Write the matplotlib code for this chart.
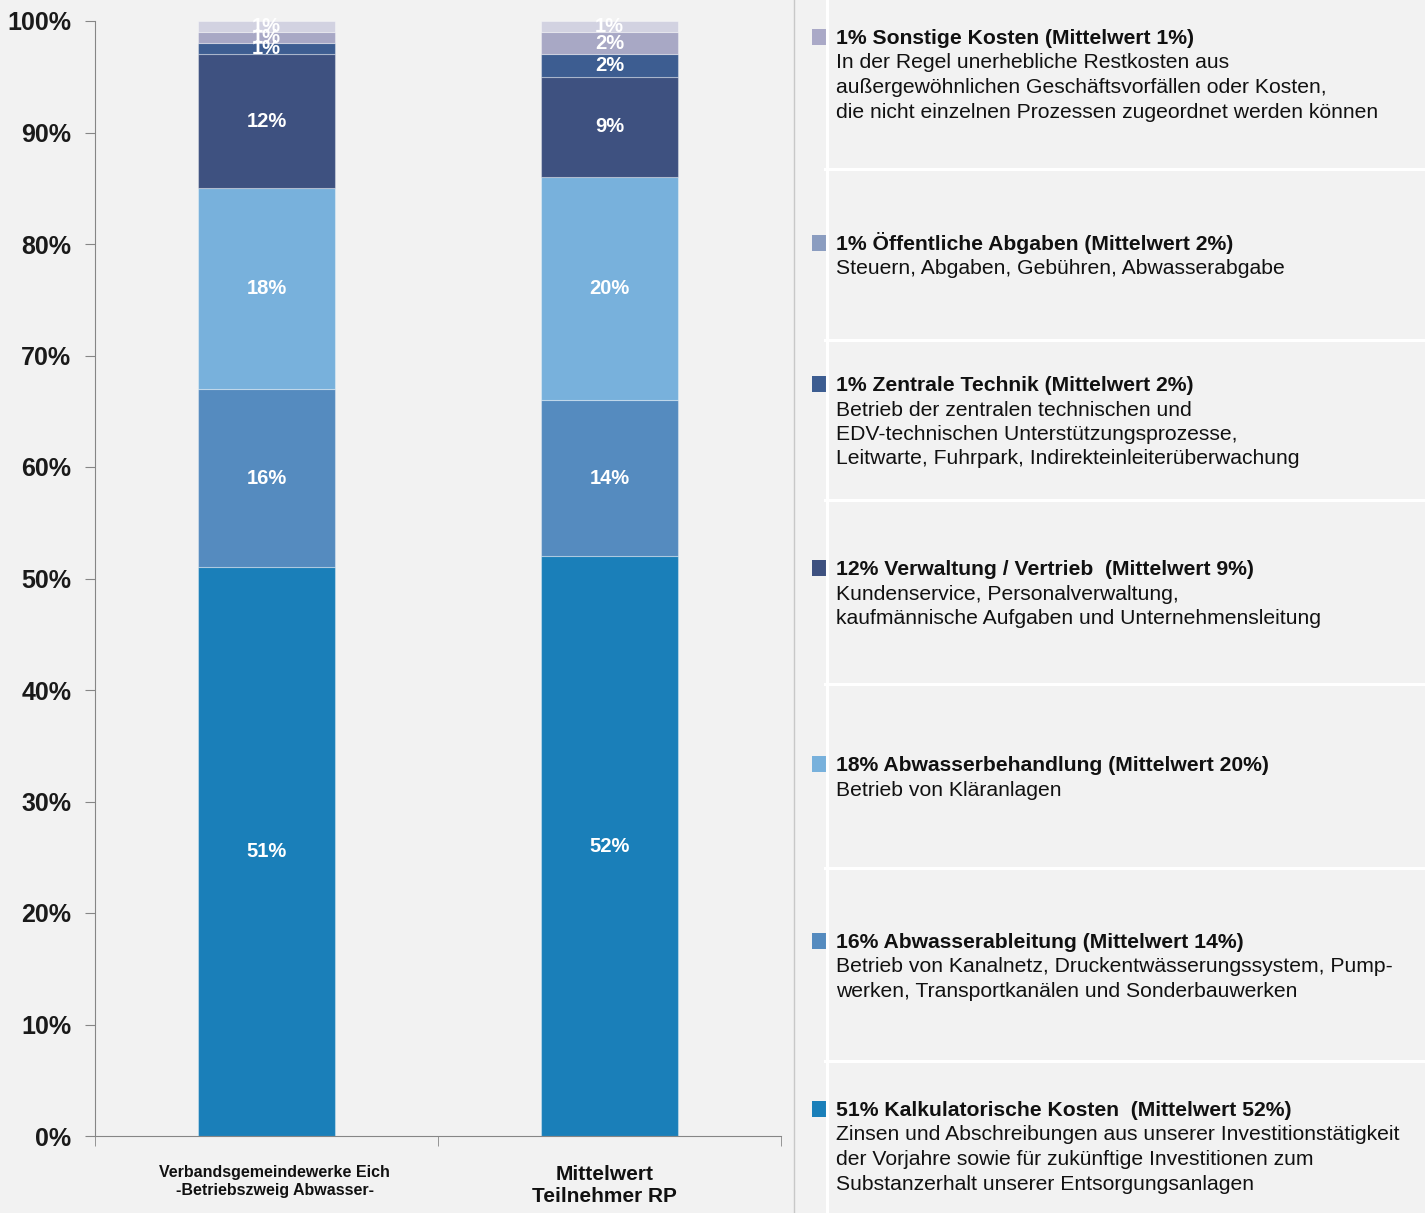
import matplotlib.pyplot as plt
import matplotlib.transforms as mtransforms
from matplotlib.patches import Rectangle
import numpy as np

plt.rcParams['font.family'] = ['Liberation Sans', 'DejaVu Sans']

# Daten (Anteile in %), von unten nach oben gestapelt
categories = ["Verbandsgemeindewerke Eich\n-Betriebszweig Abwasser-", "Mittelwert\nTeilnehmer RP"]
kalkulatorisch = [51, 52]
ableitung = [16, 14]
behandlung = [18, 20]
verwaltung = [12, 9]
zentrale = [1, 2]
oeffentlich = [1, 2]
sonstige = [1, 1]

series = [kalkulatorisch, ableitung, behandlung, verwaltung, zentrale, oeffentlich, sonstige]
bar_colors = ['#1a7fb9', '#558bbf', '#78b1dc', '#3e5180', '#3d5d91', '#a8a8c5', '#d2d2e1']
legend_colors = ['#1a7fb9', '#558bbf', '#78b1dc', '#3e5180', '#3d5d91', '#8b9dc0', '#aaa9c7']

yticks = [0, 10, 20, 30, 40, 50, 60, 70, 80, 90, 100]

# Legende rechts (von oben nach unten)
legend_titles = [
    "1% Sonstige Kosten (Mittelwert 1%)",
    "1% Öffentliche Abgaben (Mittelwert 2%)",
    "1% Zentrale Technik (Mittelwert 2%)",
    "12% Verwaltung / Vertrieb  (Mittelwert 9%)",
    "18% Abwasserbehandlung (Mittelwert 20%)",
    "16% Abwasserableitung (Mittelwert 14%)",
    "51% Kalkulatorische Kosten  (Mittelwert 52%)",
]
legend_texts = [
    ["In der Regel unerhebliche Restkosten aus",
     "außergewöhnlichen Geschäftsvorfällen oder Kosten,",
     "die nicht einzelnen Prozessen zugeordnet werden können"],
    ["Steuern, Abgaben, Gebühren, Abwasserabgabe"],
    ["Betrieb der zentralen technischen und",
     "EDV-technischen Unterstützungsprozesse,",
     "Leitwarte, Fuhrpark, Indirekteinleiterüberwachung"],
    ["Kundenservice, Personalverwaltung,",
     "kaufmännische Aufgaben und Unternehmensleitung"],
    ["Betrieb von Kläranlagen"],
    ["Betrieb von Kanalnetz, Druckentwässerungssystem, Pump-",
     "werken, Transportkanälen und Sonderbauwerken"],
    ["Zinsen und Abschreibungen aus unserer Investitionstätigkeit",
     "der Vorjahre sowie für zukünftige Investitionen zum",
     "Substanzerhalt unserer Entsorgungsanlagen"],
]
legend_marker_colors = legend_colors[::-1]

W, H = 1425, 1213
bg = '#f2f2f2'
fig = plt.figure(figsize=(W / 100, H / 100), dpi=100, facecolor=bg)

# Hintergrund-Panel der Legende (Pixelkoordinaten)
lax = fig.add_axes([0, 0, 1, 1], zorder=0)
lax.set_xlim(0, W)
lax.set_ylim(H, 0)
lax.axis('off')
lax.plot([794, 794], [0, H], color='#c8c8c8', lw=1.0)
lax.plot([827, 827], [0, H], color='white', lw=2.2)
for sy in [169, 340, 500, 684, 868, 1061]:
    lax.plot([825, W], [sy, sy], color='white', lw=2.2)

title_y = [37, 243, 384, 568, 764, 941, 1109]
for ty, title, lines, col in zip(title_y, legend_titles, legend_texts, legend_marker_colors):
    lax.add_patch(Rectangle((812, ty - 8), 16, 16, color=col, lw=0))
    lax.text(836, ty + 7, title, fontsize=15.2, fontweight='bold', color='#111111', va='baseline')
    for k, line in enumerate(lines):
        lax.text(836, ty + 7 + 24.5 * (k + 1), line, fontsize=15.2, color='#111111', va='baseline')

# Diagramm
ax = fig.add_axes([95 / W, 1 - 1136 / H, (781 - 95) / W, (1136 - 21) / H], zorder=1)
ax.set_facecolor('none')
x = np.arange(len(categories))
bottom = np.zeros(len(categories))
for vals, col in zip(series, bar_colors):
    bars = ax.bar(x, vals, 0.4, bottom=bottom, color=col, edgecolor=(1, 1, 1, 0.35), linewidth=0.8)
    ax.bar_label(bars, labels=[f"{v}%" for v in vals], label_type='center',
                 color='white', fontsize=14.5, fontweight='bold')
    bottom += np.array(vals)

ax.set_xlim(-0.5, 1.5)
ax.set_ylim(0, 100)
ax.set_yticks(yticks)
ax.set_yticklabels([f"{t}%" for t in yticks], fontsize=18, fontweight='bold', color='#1a1a1a')
ax.tick_params(axis='y', length=7, color='#868686', pad=10)

ax.set_xticks(x)
ax.set_xticklabels(categories, fontweight='bold', color='#111111')
ax.tick_params(axis='x', which='major', length=0, pad=21)
xl = ax.get_xticklabels()
xl[0].set_fontsize(11.5)
xl[1].set_fontsize(15)
for lbl, dx in zip(xl, [0.08, -0.05]):
    lbl.set_transform(lbl.get_transform() + mtransforms.ScaledTranslation(dx, 0, fig.dpi_scale_trans))
ax.set_xticks([-0.5, 0.5, 1.5], minor=True)
ax.tick_params(axis='x', which='minor', length=7, color='#868686')

for side in ['top', 'right']:
    ax.spines[side].set_visible(False)
for side in ['left', 'bottom']:
    ax.spines[side].set_color('#868686')

fig.savefig('out.png', dpi=100, facecolor=bg)
